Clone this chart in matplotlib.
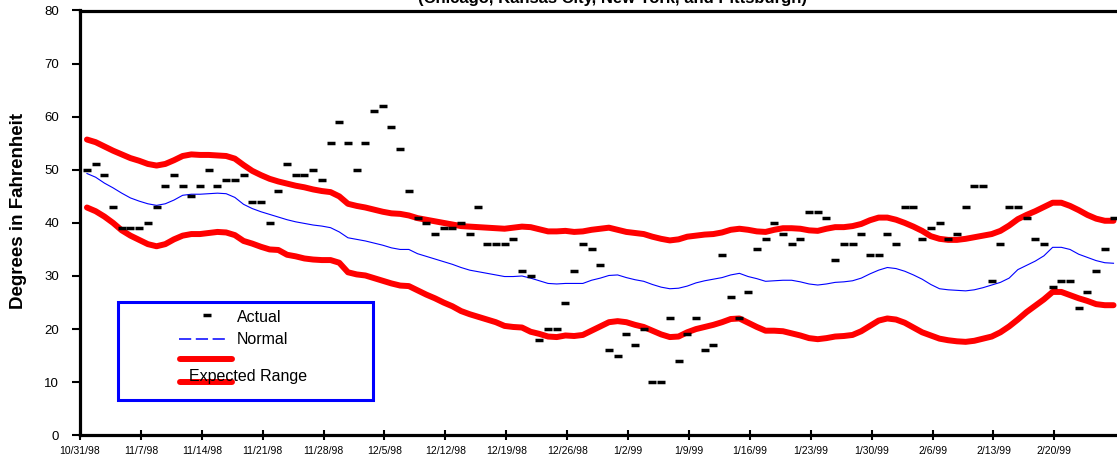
import matplotlib.pyplot as plt
from matplotlib.lines import Line2D
from matplotlib.patches import Rectangle

plt.rcParams['font.family'] = ['Liberation Sans', 'DejaVu Sans']

# weekly tick labels
week_labels = ['10/31/98', '11/7/98', '11/14/98', '11/21/98', '11/28/98', '12/5/98',
               '12/12/98', '12/19/98', '12/26/98', '1/2/99', '1/9/99', '1/16/99',
               '1/23/99', '1/30/99', '2/6/99', '2/13/99', '2/20/99']

# daily observed temperature (10/31/98 .. 2/26/99)
actual = [50, 51, 49, 43, 39, 39, 39, 40, 43, 47,
          49, 47, 45, 47, 50, 47, 48, 48, 49, 44,
          44, 40, 46, 51, 49, 49, 50, 48, 55, 59,
          55, 50, 55, 61, 62, 58, 54, 46, 41, 40,
          38, 39, 39, 40, 38, 43, 36, 36, 36, 37,
          31, 30, 18, 20, 20, 25, 31, 36, 35, 32,
          16, 15, 19, 17, 20, 10, 10, 22, 14, 19,
          22, 16, 17, 34, 26, 22, 27, 35, 37, 40,
          38, 36, 37, 42, 42, 41, 33, 36, 36, 38,
          34, 34, 38, 36, 43, 43, 37, 39, 40, 37,
          38, 43, 47, 47, 29, 36, 43, 43, 41, 37,
          36, 28, 29, 29, 24, 27, 31, 35, 41]

normal = [49.3, 48.6, 47.5, 46.6, 45.6, 44.7, 44.1, 43.6, 43.3, 43.6,
          44.3, 45.2, 45.4, 45.4, 45.5, 45.6, 45.5, 44.8, 43.5, 42.7,
          42.1, 41.6, 41.1, 40.6, 40.2, 39.9, 39.6, 39.4, 39.1, 38.3,
          37.2, 36.9, 36.6, 36.2, 35.8, 35.3, 35.0, 35.0, 34.2, 33.7,
          33.2, 32.7, 32.2, 31.6, 31.1, 30.8, 30.5, 30.2, 29.9, 29.9,
          30.0, 29.6, 29.1, 28.6, 28.5, 28.6, 28.6, 28.6, 29.2, 29.6,
          30.1, 30.2, 29.7, 29.3, 29.0, 28.4, 27.9, 27.6, 27.7, 28.1,
          28.7, 29.1, 29.4, 29.7, 30.2, 30.5, 29.9, 29.5, 29.0, 29.1,
          29.2, 29.2, 28.9, 28.5, 28.3, 28.5, 28.8, 28.9, 29.1, 29.6,
          30.4, 31.1, 31.6, 31.4, 30.9, 30.2, 29.4, 28.4, 27.6, 27.4,
          27.3, 27.2, 27.4, 27.8, 28.3, 28.8, 29.6, 31.2, 32.0, 32.8,
          33.8, 35.4, 35.4, 35.0, 34.1, 33.5, 32.9, 32.5, 32.4]

upper = [55.7, 55.2, 54.4, 53.6, 52.9, 52.2, 51.7, 51.1, 50.8, 51.1,
         51.8, 52.6, 52.9, 52.8, 52.8, 52.7, 52.6, 52.1, 50.9, 49.8,
         49.0, 48.3, 47.8, 47.4, 47.0, 46.7, 46.3, 46.0, 45.8, 45.0,
         43.6, 43.2, 42.9, 42.5, 42.1, 41.8, 41.7, 41.4, 40.9, 40.6,
         40.3, 40.0, 39.7, 39.4, 39.3, 39.2, 39.1, 39.0, 38.9, 39.1,
         39.3, 39.2, 38.8, 38.4, 38.4, 38.5, 38.3, 38.4, 38.7, 38.9,
         39.1, 38.7, 38.3, 38.1, 37.9, 37.4, 37.0, 36.7, 36.9, 37.4,
         37.6, 37.8, 37.9, 38.2, 38.7, 38.9, 38.7, 38.4, 38.3, 38.7,
         39.0, 39.0, 38.9, 38.6, 38.5, 38.9, 39.2, 39.2, 39.4, 39.8,
         40.5, 41.0, 41.0, 40.6, 40.0, 39.3, 38.5, 37.5, 37.0, 36.8,
         36.8, 37.0, 37.3, 37.6, 37.9, 38.5, 39.5, 40.7, 41.5, 42.2,
         43.0, 43.8, 43.8, 43.2, 42.4, 41.5, 40.8, 40.4, 40.4]

lower = [42.9, 42.2, 41.2, 40.0, 38.6, 37.6, 36.8, 36.0, 35.6, 36.0,
         36.9, 37.6, 37.9, 37.9, 38.1, 38.3, 38.2, 37.7, 36.6, 36.1,
         35.5, 35.0, 34.9, 34.0, 33.7, 33.3, 33.1, 33.0, 33.0, 32.5,
         30.7, 30.3, 30.1, 29.6, 29.1, 28.6, 28.2, 28.1, 27.3, 26.5,
         25.8, 25.0, 24.3, 23.4, 22.8, 22.3, 21.8, 21.3, 20.6, 20.4,
         20.3, 19.5, 19.1, 18.6, 18.5, 18.8, 18.7, 18.9, 19.7, 20.5,
         21.3, 21.5, 21.3, 20.8, 20.4, 19.7, 19.0, 18.5, 18.6, 19.4,
         20.0, 20.4, 20.8, 21.3, 21.9, 22.0, 21.2, 20.4, 19.7, 19.7,
         19.6, 19.2, 18.8, 18.3, 18.1, 18.3, 18.6, 18.7, 18.9, 19.6,
         20.6, 21.6, 22.0, 21.8, 21.2, 20.3, 19.4, 18.8, 18.2, 17.9,
         17.7, 17.6, 17.8, 18.2, 18.6, 19.4, 20.5, 21.8, 23.2, 24.4,
         25.6, 27.0, 27.0, 26.4, 25.8, 25.3, 24.7, 24.5, 24.5]

days = list(range(len(actual)))

W, H = 1117, 459


def fx(x):
    return x / W


def fy(y):
    return 1 - y / H


fig = plt.figure(figsize=(W / 100, H / 100), dpi=100)
ax = fig.add_axes([fx(80), fy(435.3), 1 - fx(80), (435.3 - 10.5) / H])

ax.plot(days, upper, color='red', lw=4.3, solid_capstyle='round', solid_joinstyle='round')
ax.plot(days, lower, color='red', lw=4.3, solid_capstyle='round', solid_joinstyle='round')
ax.plot(days, normal, color='blue', lw=0.8)
ax.plot(days, actual, ls='none', marker='_', ms=5.2, mew=2.5, color='black')

ax.set_xlim(-0.8, 118.4)
ax.set_ylim(0, 80)
ax.set_yticks(range(0, 81, 10))
ax.set_xticks([7 * k - 0.8 for k in range(len(week_labels))])
ax.set_xticklabels(week_labels, fontsize=7.5)
ax.tick_params(axis='y', direction='out', length=6, width=1.5, pad=9, labelsize=9.5)
ax.tick_params(axis='x', direction='inout', length=7, width=1.5, pad=4)

for side in ['left', 'bottom', 'top']:
    ax.spines[side].set_linewidth(2.3)
    ax.spines[side].set_color('black')
ax.spines['right'].set_visible(False)

fig.text(fx(19), fy(211), 'Degrees in Fahrenheit', rotation=90, fontsize=13.5,
         fontweight='bold', ha='center', va='center')
# subtitle, cut at the top edge as in the source
fig.text(fx(613), fy(3.5), '(Chicago, Kansas City, New York, and Pittsburgh)',
         ha='center', va='baseline', fontsize=12, fontweight='bold')

# legend box drawn by hand
fig.add_artist(Rectangle((fx(118), fy(400)), (373 - 118) / W, (400 - 302) / H,
                         transform=fig.transFigure, fill=False, ec='blue', lw=2.2))
fig.add_artist(Line2D([fx(207)], [fy(315)], transform=fig.transFigure, ls='none',
                      marker='_', ms=5.2, mew=2.5, color='black'))
fig.add_artist(Line2D([fx(179), fx(228)], [fy(339), fy(339)], transform=fig.transFigure,
                      color='blue', lw=1.1, dashes=(8, 3)))
fig.add_artist(Line2D([fx(180), fx(232)], [fy(359), fy(359)], transform=fig.transFigure,
                      color='red', lw=4.3, solid_capstyle='round'))
fig.add_artist(Line2D([fx(180), fx(232)], [fy(382), fy(382)], transform=fig.transFigure,
                      color='red', lw=4.3, solid_capstyle='round'))
fig.text(fx(237), fy(317), 'Actual', ha='left', va='center', fontsize=11.5)
fig.text(fx(237), fy(340), 'Normal', ha='left', va='center', fontsize=11.5)
fig.text(fx(189), fy(377), 'Expected Range', ha='left', va='center', fontsize=11.5)

fig.savefig('out.png', dpi=100)
